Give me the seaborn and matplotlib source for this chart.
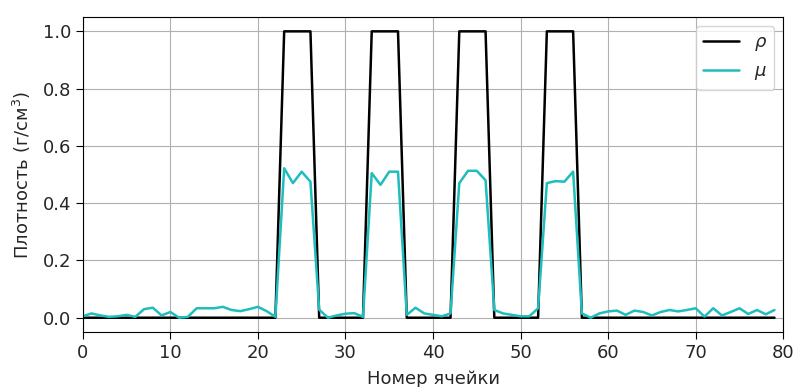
import numpy as np
import pandas as pd
import seaborn as sns
import matplotlib
matplotlib.use("Agg")
import matplotlib.pyplot as plt

# номера ячеек
cells = np.arange(80)

# истинная плотность rho
rho = np.zeros(80)
rho[23:27] = 1.0
rho[33:37] = 1.0
rho[43:47] = 1.0
rho[53:57] = 1.0

# восстановленная плотность mu
mu = [0.005, 0.015, 0.008, 0.003, 0.005, 0.010, 0.003, 0.030, 0.035, 0.008,
      0.020, 0.000, 0.003, 0.033, 0.033, 0.033, 0.038, 0.027, 0.023, 0.030,
      0.038, 0.023, 0.003, 0.522, 0.470, 0.510, 0.475, 0.028, 0.000, 0.008,
      0.014, 0.016, 0.003, 0.505, 0.464, 0.510, 0.510, 0.010, 0.035, 0.015,
      0.010, 0.005, 0.015, 0.470, 0.513, 0.513, 0.480, 0.027, 0.015, 0.010,
      0.005, 0.005, 0.033, 0.470, 0.477, 0.475, 0.510, 0.015, 0.000, 0.015,
      0.022, 0.025, 0.010, 0.025, 0.020, 0.008, 0.020, 0.027, 0.022, 0.027,
      0.033, 0.004, 0.033, 0.008, 0.020, 0.033, 0.013, 0.027, 0.012, 0.027]

sns.set_style("ticks")
plt.rcParams['font.family'] = ['DejaVu Sans']
plt.rcParams['font.size'] = 13

fig, ax = plt.subplots(figsize=(7.96, 3.87), dpi=100)
fig.subplots_adjust(left=0.104, right=0.984, top=0.956, bottom=0.142)

sns.lineplot(x=cells, y=rho, color='black', linewidth=1.8, label=r'$\rho$', ax=ax)
sns.lineplot(x=cells, y=mu, color='#1fbdbd', linewidth=1.8, label=r'$\mu$', ax=ax)

ax.set_xlim(0, 80)
ax.set_ylim(-0.05, 1.05)
ax.grid(True, color='#b0b0b0', linewidth=0.8)
ax.tick_params(labelsize=13, color='black', direction='out', length=5)
for s in ax.spines.values():
    s.set_color('black')
    s.set_linewidth(0.8)

ax.set_xlabel('Номер ячейки', fontsize=13, labelpad=6)
ax.set_ylabel('Плотность (г/см$^3$)', fontsize=13, labelpad=7)
ax.legend(loc='upper right', fontsize=13)

plt.savefig('out.png', dpi=100)
